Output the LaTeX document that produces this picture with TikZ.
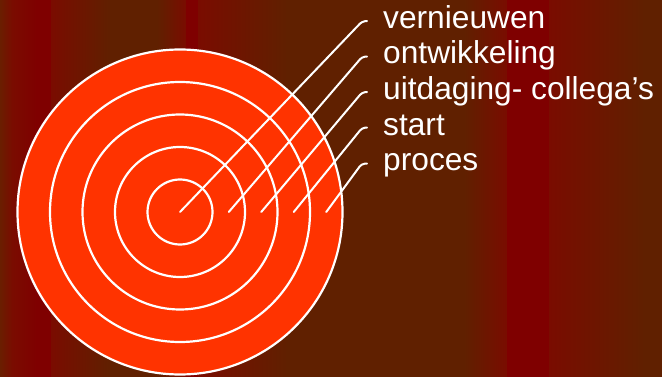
\documentclass[tikz,border=0pt]{standalone}
\usepackage{fontspec}
\setmainfont{Liberation Sans}
\definecolor{bgbrown}{RGB}{96,32,0}
\definecolor{bgred}{RGB}{127,0,0}
\definecolor{bgmid}{RGB}{122,12,0}
\definecolor{bgedge}{RGB}{106,30,0}
\definecolor{target}{RGB}{255,51,0}
\tikzset{
  ring/.style={draw=white, line width=2.2pt},
  leader/.style={draw=white, line width=2pt, rounded corners=3pt, line cap=round},
  lbl/.style={anchor=base west, inner sep=0pt, text=white, font=\fontsize{31.7}{38}\selectfont}
}
\begin{document}
\begin{tikzpicture}[x=1pt,y=-1pt]
\useasboundingbox (0,0) rectangle (662,377);
% striped background
\shade[left color=bgedge, right color=bgmid] (0,0) rectangle (12.5,377);
\shade[left color=bgmid, right color=bgred] (12,0) rectangle (36.5,377);
\fill[bgred] (36,0) rectangle (51.5,377);
\shade[left color=bgmid, right color=bgbrown] (51,0) rectangle (110.5,377);
\fill[bgbrown] (110,0) rectangle (157.5,377);
\shade[left color=bgbrown, right color=bgmid] (157,0) rectangle (186.5,377);
\fill[bgred] (186,0) rectangle (198.5,377);
\shade[left color=bgmid, right color=bgbrown] (198,0) rectangle (287.5,377);
\fill[bgbrown] (287,0) rectangle (464.5,377);
\shade[left color=bgbrown, right color=bgmid] (464,0) rectangle (507.5,377);
\fill[bgred] (507,0) rectangle (549.5,377);
\shade[left color=bgmid, right color=bgbrown] (549,0) rectangle (644.5,377);
\fill[bgbrown] (644,0) rectangle (662,377);
% target
\coordinate (c0) at (180,212);
\fill[target] (c0) circle[radius=162.5];
\foreach \k in {1,...,5} {
  \draw[ring] (c0) circle[radius=32.5*\k];
}
% leader start points
\coordinate (s1) at (228.75,212);
\coordinate (s2) at (261.25,212);
\coordinate (s3) at (293.75,212);
\coordinate (s4) at (326.25,212);
% bends and ends
\coordinate (b0) at (362,21.5);  \coordinate (e0) at (367,21);
\coordinate (b1) at (362,57);    \coordinate (e1) at (367,56.5);
\coordinate (b2) at (362,92.5);  \coordinate (e2) at (367,92);
\coordinate (b3) at (362,128);   \coordinate (e3) at (367,127.5);
\coordinate (b4) at (361.5,164); \coordinate (e4) at (367,163.5);
\draw[leader] (c0) -- (b0) -- (e0);
\draw[leader] (s1) -- (b1) -- (e1);
\draw[leader] (s2) -- (b2) -- (e2);
\draw[leader] (s3) -- (b3) -- (e3);
\draw[leader] (s4) -- (b4) -- (e4);
% labels
\node[lbl] (t0) at (383,28.3) {vernieuwen};
\node[lbl] (t1) at (383,63.9) {ontwikkeling};
\node[lbl] (t2) at (383,99.5) {uitdaging- collega’s};
\node[lbl] (t3) at (383,135.1) {start};
\node[lbl] (t4) at (383,170.7) {proces};
\end{tikzpicture}
\end{document}
